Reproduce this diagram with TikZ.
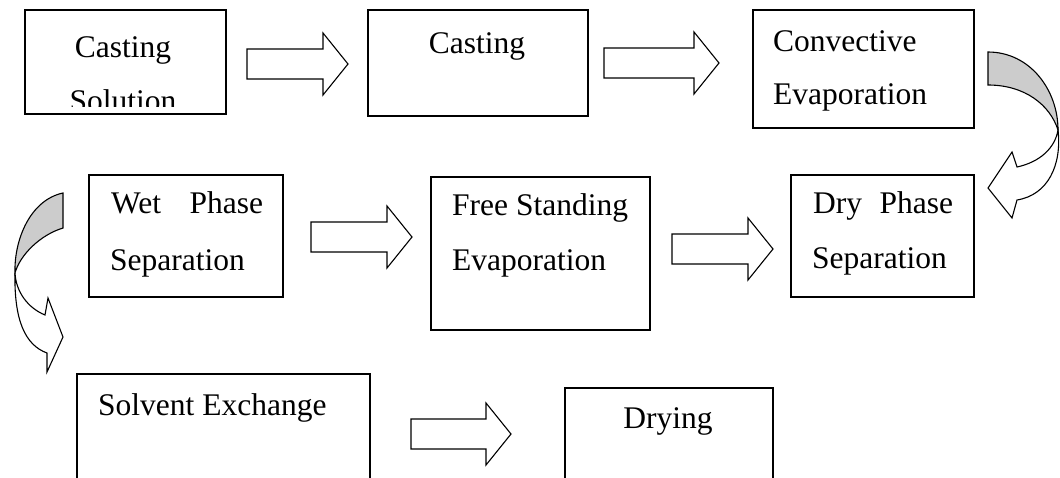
\documentclass[tikz,border=0pt]{standalone}
\usepackage{fontspec}
\setmainfont{Liberation Serif}
\usetikzlibrary{positioning}
\definecolor{BandGrey}{gray}{0.8}
% block arrow from x #1 to x #2 at height #3
\newcommand{\blockarrow}[3]{%
  \draw[outline] (#1,#3-15) -- (#2-25,#3-15) -- (#2-25,#3-31) -- (#2,#3)
    -- (#2-25,#3+31) -- (#2-25,#3+15) -- (#1,#3+15) -- cycle;}

\begin{document}
\begin{tikzpicture}[x=1pt, y=-1pt,
  box/.style={draw, line width=1.3pt, inner sep=0pt},
  outline/.style={draw, line width=1.1pt, line join=miter, fill=white},
  boxtext/.style={inner sep=0pt, font=\fontsize{31.5}{36}\selectfont}]
\clip (0,0) rectangle (1060,477);

%draw the boxes
\foreach \nm/\cx/\cy/\w/\h in {cs/125.5/62/201/104, ca/478/63/220/106, ce/863.5/69/221/118,
    wp/186/236/194/122, fs/540.5/253.5/219/153, dp/882.5/236/183/122,
    se/223.5/432/293/116, dr/669/439/208/102}{
  \node[box, minimum width=\w pt, minimum height=\h pt] (\nm) at (\cx,\cy){};
}

%texts of the boxes
\node[boxtext, anchor=base] (cs1) at (123,57) {Casting};
\begin{scope}
  \clip (25,10) rectangle (226,106);
  \node[boxtext, anchor=base] (cs2) at (123,111) {Solution};
\end{scope}
\node[boxtext, anchor=base] (ca1) at (477,53) {Casting};
\node[boxtext, anchor=base west] (ce1) at (773,51) {Convective};
\node[boxtext, anchor=base west] (ce2) at (773,104) {Evaporation};
\node[boxtext, anchor=base west] (wp1) at (111,213) {\makebox[152pt][s]{Wet Phase}};
\node[boxtext, anchor=base west] (wp2) at (110,270) {Separation};
\node[boxtext, anchor=base west] (fs1) at (452,215) {Free Standing};
\node[boxtext, anchor=base west] (fs2) at (452,270) {Evaporation};
\node[boxtext, anchor=base west] (dp1) at (813,213) {\makebox[140pt][s]{Dry Phase}};
\node[boxtext, anchor=base west] (dp2) at (812,268) {Separation};
\node[boxtext, anchor=base west] (se1) at (98,415) {Solvent Exchange};
\node[boxtext, anchor=base] (dr1) at (668,428) {Drying};

%straight block arrows
\foreach \xa/\xb/\yc in {247/348/64, 604/719/63, 311/412/237, 672/773/249, 411/511/434}{
  \blockarrow{\xa}{\xb}{\yc}
}

%curved arrow on the right
\draw[outline, fill=BandGrey] (988,52) .. controls (1030,52) and (1058,90) .. (1058,130)
  .. controls (1050,105) and (1025,85) .. (988,85) -- cycle;
\draw[outline] (1058,130) .. controls (1062,165) and (1048,195) .. (1017,200) -- (1012,218)
  -- (988,188) -- (1012,152) -- (1017,167) .. controls (1040,162) and (1055,148) .. (1058,130) -- cycle;

%curved arrow on the left
\draw[outline, fill=BandGrey] (63,193) .. controls (30,200) and (14,240) .. (15,273)
  .. controls (20,255) and (40,235) .. (63,228) -- cycle;
\draw[outline] (15,273) .. controls (14,320) and (25,345) .. (47,353) -- (47,372)
  -- (63,337) -- (48,298) -- (45,315) .. controls (28,308) and (16,292) .. (15,273) -- cycle;
\end{tikzpicture}
\end{document}
